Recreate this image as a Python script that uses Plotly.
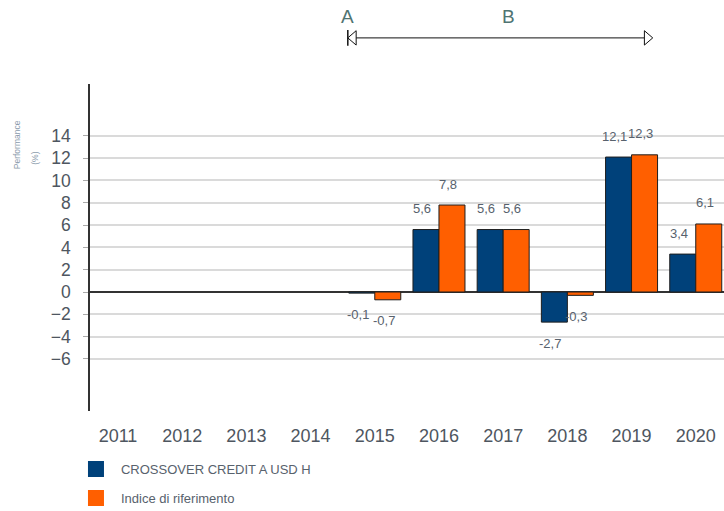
import plotly.graph_objects as go

years = ["2011", "2012", "2013", "2014", "2015", "2016", "2017", "2018", "2019", "2020"]
fund = [None, None, None, None, -0.1, 5.6, 5.6, -2.7, 12.1, 3.4]
bench = [None, None, None, None, -0.7, 7.8, 5.6, -0.3, 12.3, 6.1]
fund_name = "CROSSOVER CREDIT A USD H"
bench_name = "Indice di riferimento"
y_ticks = [-6, -4, -2, 0, 2, 4, 6, 8, 10, 12, 14]

BLUE = "#00417a"
ORANGE = "#ff5f00"
TEXT = "#58626d"


def fmt(v):
    return f"{v:.1f}".replace(".", ",")


fig = go.Figure()
for i, (name, vals, color) in enumerate([(fund_name, fund, BLUE), (bench_name, bench, ORANGE)]):
    fig.add_trace(go.Bar(
        x=years, y=vals, name=name, showlegend=False,
        marker=dict(color=color, line=dict(color="#1e1e1e", width=1)),
    ))
    # legend entry without the bar outline
    fig.add_trace(go.Scatter(
        x=[None], y=[None], mode="markers", name=name, legendgroup=f"g{i}",
        marker=dict(symbol="square", size=16, color=color),
    ))

# value labels, offset away from the bar end
# (numeric category index: "2015" strings get read as numbers by annotations)
for vals, shift in [(fund, -13), (bench, 13)]:
    for idx, v in enumerate(vals):
        if v is None:
            continue
        fig.add_annotation(
            x=idx, y=v, text=fmt(v), showarrow=False,
            xanchor="center", yanchor="middle",
            xshift=shift - 4, yshift=21 if v >= 0 else -21,
            font=dict(size=13, color=TEXT),
        )

# period markers A / B above the plot
ya = 1.141
fig.add_shape(type="line", xref="x", yref="paper", x0=3.58, x1=3.58,
              y0=ya - 0.024, y1=ya + 0.024, line=dict(color="#111", width=1.5))
fig.add_shape(type="line", xref="x", yref="paper", x0=3.69, x1=8.2,
              y0=ya, y1=ya, line=dict(color="#111", width=1))
fig.add_shape(type="path", xref="x", yref="paper",
              path=f"M3.58,{ya} L3.71,{ya + 0.022} L3.71,{ya - 0.022} Z",
              fillcolor="white", line=dict(color="#111", width=1))
fig.add_shape(type="path", xref="x", yref="paper",
              path=f"M8.33,{ya} L8.2,{ya + 0.022} L8.2,{ya - 0.022} Z",
              fillcolor="white", line=dict(color="#111", width=1))
for xa, lbl in [(3.58, "A"), (6.08, "B")]:
    fig.add_annotation(x=xa, y=1.205, xref="x", yref="paper", text=lbl,
                       xanchor="center", yanchor="middle", showarrow=False,
                       font=dict(size=19, color="#4f7472"))

# tiny axis caption, two separately placed lines
for xp, yp, txt in [(-0.115, 0.813, "Performance"), (-0.087, 0.774, "(%)")]:
    fig.add_annotation(x=xp, y=yp, xref="paper", yref="paper",
                       xanchor="center", yanchor="middle", text=txt,
                       textangle=-90, showarrow=False,
                       font=dict(size=8.5, color="#8c9cad"))

fig.update_layout(
    width=724, height=511,
    margin=dict(l=90, r=0, t=84, b=100, autoexpand=False),
    paper_bgcolor="white", plot_bgcolor="white",
    font=dict(family="Liberation Sans, Arial, sans-serif", color=TEXT),
    barmode="group", bargap=0.19, bargroupgap=0,
    legend=dict(x=-0.03, y=-0.132, xanchor="left", yanchor="top",
                font=dict(size=13, color=TEXT), tracegroupgap=9,
                itemwidth=40, bgcolor="rgba(0,0,0,0)"),
    xaxis=dict(type="category", range=[-0.436, 9.44], showgrid=False,
               ticks="", tickfont=dict(size=18, color="#4e5660"),
               ticklabelstandoff=12,
               showline=False, zeroline=False, fixedrange=True),
    yaxis=dict(range=[-10.67, 18.65], tickvals=y_ticks,
               tickfont=dict(size=17.5, color="#4e5660"),
               showgrid=True, gridcolor="#dadada", gridwidth=1.5,
               zeroline=True, zerolinecolor="#333", zerolinewidth=1.5,
               showline=True, linecolor="#333", linewidth=1.5,
               ticks="outside", ticklen=5, tickcolor="#aaa",
               ticklabelstandoff=9, fixedrange=True),
)

fig.write_html("out.html", config={"displayModeBar": False},
               post_script="document.body.style.margin='0';")
